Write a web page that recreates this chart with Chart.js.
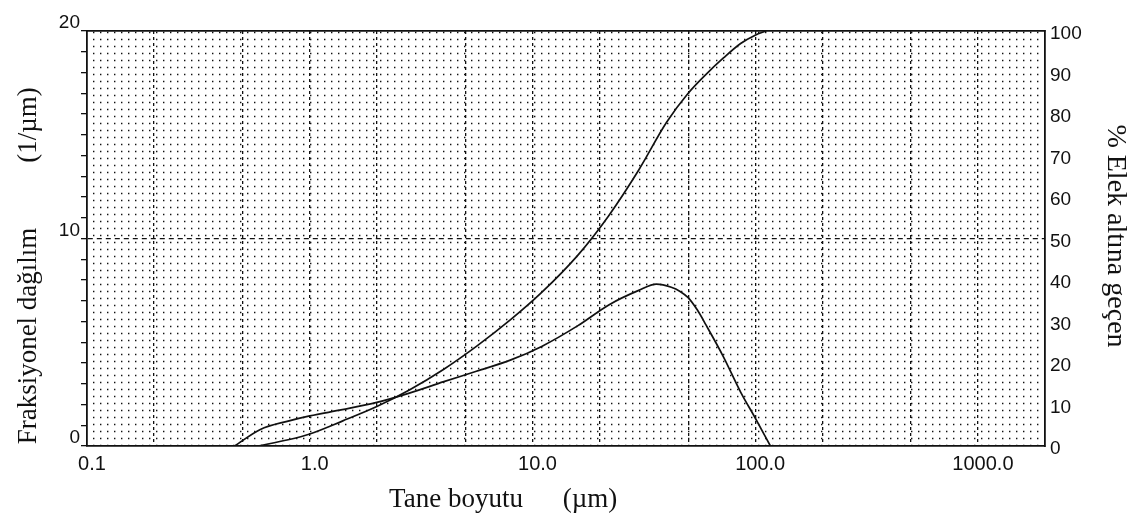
<!DOCTYPE html>
<html>
<head>
<meta charset="utf-8">
<title>Tane boyutu dağılımı</title>
<script src="https://cdn.jsdelivr.net/npm/chart.js@4.4.1/dist/chart.umd.min.js"></script>
<style>
  html, body { margin: 0; padding: 0; background: #fff; }
  #wrap { width: 1140px; height: 522px; }
</style>
</head>
<body>
<div id="wrap"><canvas id="myChart" width="1140" height="522"></canvas></div>
<script>
'use strict';
// fractional distribution (1/um) against particle size (um)
let freqSize = [0.46, 0.6, 0.8, 1.0, 1.4, 2.0, 2.8, 4.0, 5.6, 8, 11, 16, 22, 30, 36, 42, 46, 50, 55, 60, 72, 86, 100, 117];
let freqValue = [0, 0.8, 1.2, 1.45, 1.75, 2.1, 2.55, 3.1, 3.6, 4.15, 4.8, 5.8, 6.8, 7.5, 7.8, 7.65, 7.45, 7.15, 6.55, 5.85, 4.3, 2.6, 1.35, 0];
// cumulative % passing against particle size (um)
let cumSize = [0.585, 0.8, 1.0, 1.4, 2.0, 2.8, 4.0, 5.6, 8, 11, 16, 22, 30, 40, 50, 60, 72, 86, 100, 112];
let cumValue = [0, 1.5, 2.9, 6.0, 9.5, 13.5, 18.5, 24, 30.5, 37, 46, 55.5, 66.5, 78, 85, 89.5, 93.5, 97, 99, 100];
// axis ticks
let xGridValues = [0.1, 0.2, 0.5, 1, 2, 5, 10, 20, 50, 100, 200, 500, 1000];
let xLabelValues = [0.1, 1, 10, 100, 1000];
let leftLabelValues = [0, 10, 20];
let rightTickValues = [0, 10, 20, 30, 40, 50, 60, 70, 80, 90, 100];

let tickFont = { family: '"Liberation Sans", Arial, sans-serif', size: 19 };

// axis titles, drawn where the scan has them
let titlePlugin = {
    id: 'titles',
    afterDraw(chart) {
        let c = chart.ctx;
        c.save();
        c.fillStyle = '#111';
        c.font = '27px "Liberation Serif", "Times New Roman", serif';
        c.textAlign = 'center';
        c.textBaseline = 'alphabetic';
        c.fillText('Tane boyutu', 456, 507);
        c.fillText('(µm)', 590, 507);
        c.restore();

        c.save();
        c.fillStyle = '#111';
        c.font = '27px "Liberation Serif", "Times New Roman", serif';
        c.textAlign = 'center';
        c.translate(36, 0);
        c.rotate(-Math.PI / 2);
        c.fillText('Fraksiyonel dağılım', -336, 0);
        c.fillText('(1/µm)', -125, 0);
        c.restore();

        c.save();
        c.fillStyle = '#111';
        c.font = '28px "Liberation Serif", "Times New Roman", serif';
        c.textAlign = 'center';
        c.translate(1108, 0);
        c.rotate(Math.PI / 2);
        c.fillText('% Elek altına geçen', 236, 0);
        c.restore();
    }
};

let ctx = document.getElementById('myChart').getContext('2d');
let myChart = new Chart(ctx, {
    type: 'line',
    data: {
        datasets: [{
            label: 'Fraksiyonel dağılım',
            data: freqSize.map((s, i) => ({ x: s, y: freqValue[i] })),
            xAxisID: 'x',
            yAxisID: 'y',
            borderColor: '#111',
            borderWidth: 1.7,
            pointRadius: 0,
            cubicInterpolationMode: 'monotone',
            fill: false
        }, {
            label: '% Elek altına geçen',
            data: cumSize.map((s, i) => ({ x: s, y: cumValue[i] })),
            xAxisID: 'x',
            yAxisID: 'y2',
            borderColor: '#111',
            borderWidth: 1.7,
            pointRadius: 0,
            cubicInterpolationMode: 'monotone',
            fill: false
        }]
    },
    options: {
        responsive: false,
        animation: false,
        layout: { padding: { top: 31, left: 0, right: 0, bottom: 0 } },
        plugins: { legend: { display: false }, tooltip: { enabled: false } },
        scales: {
            x: {
                type: 'logarithmic',
                position: 'bottom',
                min: 0.1,
                max: 2000,
                afterBuildTicks: s => { s.ticks = xGridValues.map(v => ({ value: v })); },
                afterFit: s => { s.height = 76; },
                grid: {
                    color: c => (c.tick && c.tick.value > 0.1) ? '#111' : 'transparent',
                    lineWidth: 1.3,
                    drawTicks: false
                },
                border: { display: true, color: '#111', width: 1.8, dash: [3, 3] },
                ticks: {
                    autoSkip: false,
                    maxRotation: 0,
                    padding: 6,
                    labelOffset: 5,
                    color: '#111',
                    font: { family: tickFont.family, size: 20 },
                    callback: v => xLabelValues.includes(v) ? v.toFixed(1) : ''
                }
            },
            // dotted background lattice + top frame line
            xg: {
                type: 'linear',
                position: 'top',
                min: 0,
                max: 137,
                afterBuildTicks: s => {
                    let t = [];
                    for (let i = 1; i < 137; i++) t.push({ value: i });
                    s.ticks = t;
                },
                afterFit: s => { s.height = 0; },
                ticks: { display: false },
                grid: { color: '#111', lineWidth: 1.4, drawTicks: false },
                border: { display: true, color: '#111', width: 1.8, dash: [1.4, 5.6] }
            },
            y: {
                type: 'linear',
                position: 'left',
                min: 0,
                max: 20,
                afterBuildTicks: s => {
                    let t = [];
                    for (let i = 0; i <= 20; i++) t.push({ value: i });
                    s.ticks = t;
                },
                afterFit: s => { s.width = 87; },
                grid: {
                    color: c => (c.tick && c.tick.value === 10) ? '#111' : 'transparent',
                    lineWidth: 1.3,
                    tickColor: '#111',
                    tickWidth: 1.3,
                    tickLength: 6
                },
                border: { color: '#111', width: 1.8, dash: [5, 4] },
                ticks: {
                    autoSkip: false,
                    padding: 1,
                    labelOffset: -8,
                    color: '#111',
                    font: tickFont,
                    callback: v => leftLabelValues.includes(v) ? String(v) : ''
                }
            },
            y2: {
                type: 'linear',
                position: 'right',
                min: 0,
                max: 100,
                afterBuildTicks: s => { s.ticks = rightTickValues.map(v => ({ value: v })); },
                afterFit: s => { s.width = 95; },
                grid: { drawOnChartArea: false, drawTicks: false },
                border: { color: '#111', width: 1.8 },
                ticks: {
                    autoSkip: false,
                    padding: 5,
                    labelOffset: 3,
                    color: '#111',
                    font: tickFont
                }
            }
        }
    },
    plugins: [titlePlugin]
});
</script>
</body>
</html>
